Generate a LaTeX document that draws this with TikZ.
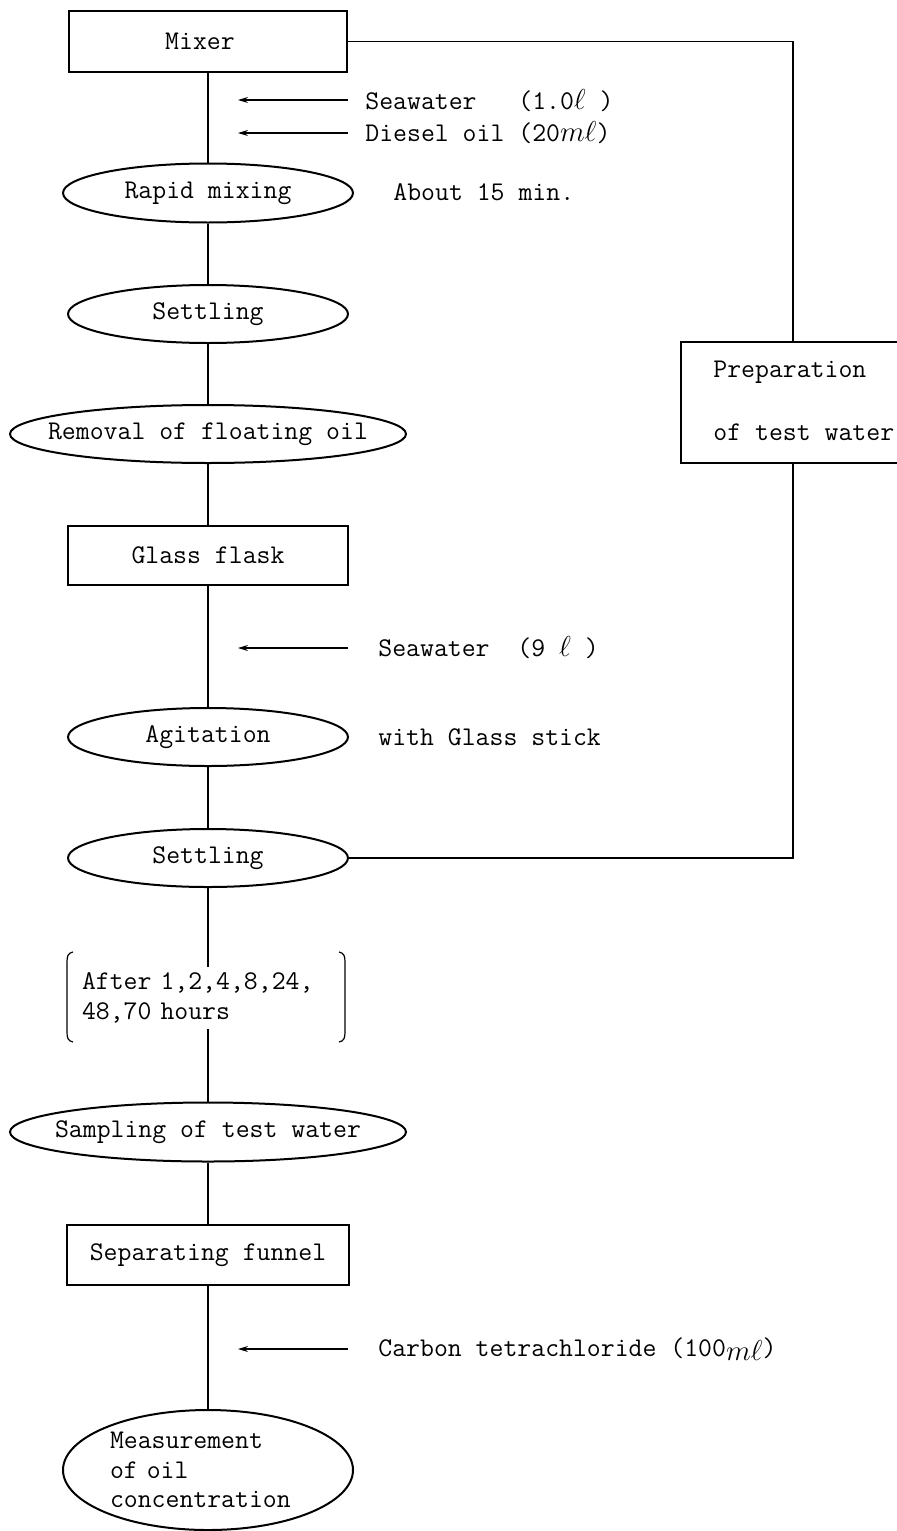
\documentclass[tikz,border=0pt]{standalone}
\usepackage{fontspec}
\usetikzlibrary{shapes.geometric,arrows.meta}
\begin{document}
\begin{tikzpicture}[x=0.5pt,y=-0.5pt,
  every node/.style={font=\ttfamily\fontsize{13.5}{14.7}\selectfont},
  flow/.style={line width=0.8pt},
  boxnode/.style={draw,line width=1pt,rectangle,inner sep=0pt,minimum width=140pt,minimum height=30pt},
  ellnode/.style={draw,line width=1pt,ellipse,inner sep=0pt,minimum width=140pt,minimum height=29pt},
  lbl/.style={anchor=west,inner sep=0pt},
  feed/.style={line width=0.6pt,-{Stealth[length=5pt,width=3pt]}},
  brace/.style={line width=0.6pt}
]
\useasboundingbox (0,0) rectangle (897,1531);
\fill[white] (0,0) rectangle (897,1531);

% main column
\node[boxnode,minimum width=139pt,minimum height=30.5pt] (mixer) at (208,41.5) {};
\node (mixert) at (200,41.5) {Mixer};

\node[ellnode,minimum width=145pt,minimum height=29.5pt] (rapid) at (208,193) {};
\node (rapidt) at (rapid.center) {Rapid mixing};

\node[ellnode] (settle1) at (208,314) {};
\node (settle1t) at (settle1.center) {Settling};

\node[ellnode,minimum width=198pt] (removal) at (208,434) {};
\node (removalt) at (removal.center) {Removal of floating oil};

\node[boxnode,minimum height=29.5pt] (glass) at (208,555.5) {};
\node (glasst) at (glass.center) {Glass flask};

\node[ellnode] (agit) at (208,737) {};
\node (agitt) at (agit.center) {Agitation};

\node[ellnode] (settle2) at (208,858) {};
\node (settle2t) at (settle2.center) {Settling};

\node[text width=126pt,align=left,inner xsep=0pt,inner ysep=3pt] (brk) at (208,998)
  {After\ 1,2,4,8,24,\\48,70\ hours};

\node[ellnode,minimum width=198pt,minimum height=29.5pt] (sample) at (208,1132) {};
\node (samplet) at (sample.center) {Sampling of test water};

\node[boxnode,minimum width=141pt] (funnel) at (208,1255) {};
\node (funnelt) at (funnel.center) {Separating funnel};

\node[ellnode,minimum width=145pt,minimum height=60pt] (measure) at (208,1470) {};
\node[text width=98pt,align=left,inner sep=0pt] (measuret) at (measure.center)
  {Measurement\\of\ oil\\concentration};

% vertical connectors
\draw[flow] (mixer) -- (rapid);
\draw[flow] (rapid) -- (settle1);
\draw[flow] (settle1) -- (removal);
\draw[flow] (removal) -- (glass);
\draw[flow] (glass) -- (agit);
\draw[flow] (agit) -- (settle2);
\draw[flow] (settle2) -- (brk);
\draw[flow] (brk) -- (sample);
\draw[flow] (sample) -- (funnel);
\draw[flow] (funnel) -- (measure);

% brackets around the time list
\draw[brace] (73,952) .. controls (68,953) and (67,956) .. (67,962) -- (67,1032)
  .. controls (67,1038) and (68,1041) .. (73,1042);
\draw[brace] (339,952) .. controls (344,953) and (345,956) .. (345,962) -- (345,1032)
  .. controls (345,1038) and (344,1041) .. (339,1042);

% feed arrows
\coordinate (a1s) at (348,100);  \coordinate (a1e) at (238,100);
\coordinate (a2s) at (348,133);  \coordinate (a2e) at (238,133);
\coordinate (a3s) at (348,648);  \coordinate (a3e) at (238,648);
\coordinate (a4s) at (348,1349); \coordinate (a4e) at (238,1349);
\draw[feed] (a1s) -- (a1e);
\draw[feed] (a2s) -- (a2e);
\draw[feed] (a3s) -- (a3e);
\draw[feed] (a4s) -- (a4e);

\node[lbl] (t1) at (365,101) {Seawater\ \ \ (1.0$\ell$\ )};
\node[lbl] (t2) at (365,133) {Diesel\ oil\ (20$m\ell$)};
\node[lbl] (t3) at (393,192) {About 15 min.};
\node[lbl] (t4) at (378,648) {Seawater\ \ (9 $\ell$ )};
\node[lbl] (t5) at (378,737) {with Glass stick};
\node[lbl] (t6) at (378,1349) {Carbon tetrachloride (100\raisebox{-2pt}{$m\ell$})};

% preparation branch
\node[draw,line width=1pt,rectangle,inner sep=0pt,minimum width=112pt,minimum height=60.5pt] (prep) at (793,402.5) {};
\node[lbl] (p1) at (713,372) {Preparation};
\node[lbl] (p2) at (713,432) {of test water};
\draw[flow] (mixer.east) -| (prep.north);
\draw[flow] (prep.south) |- (settle2.east);
\end{tikzpicture}
\end{document}
